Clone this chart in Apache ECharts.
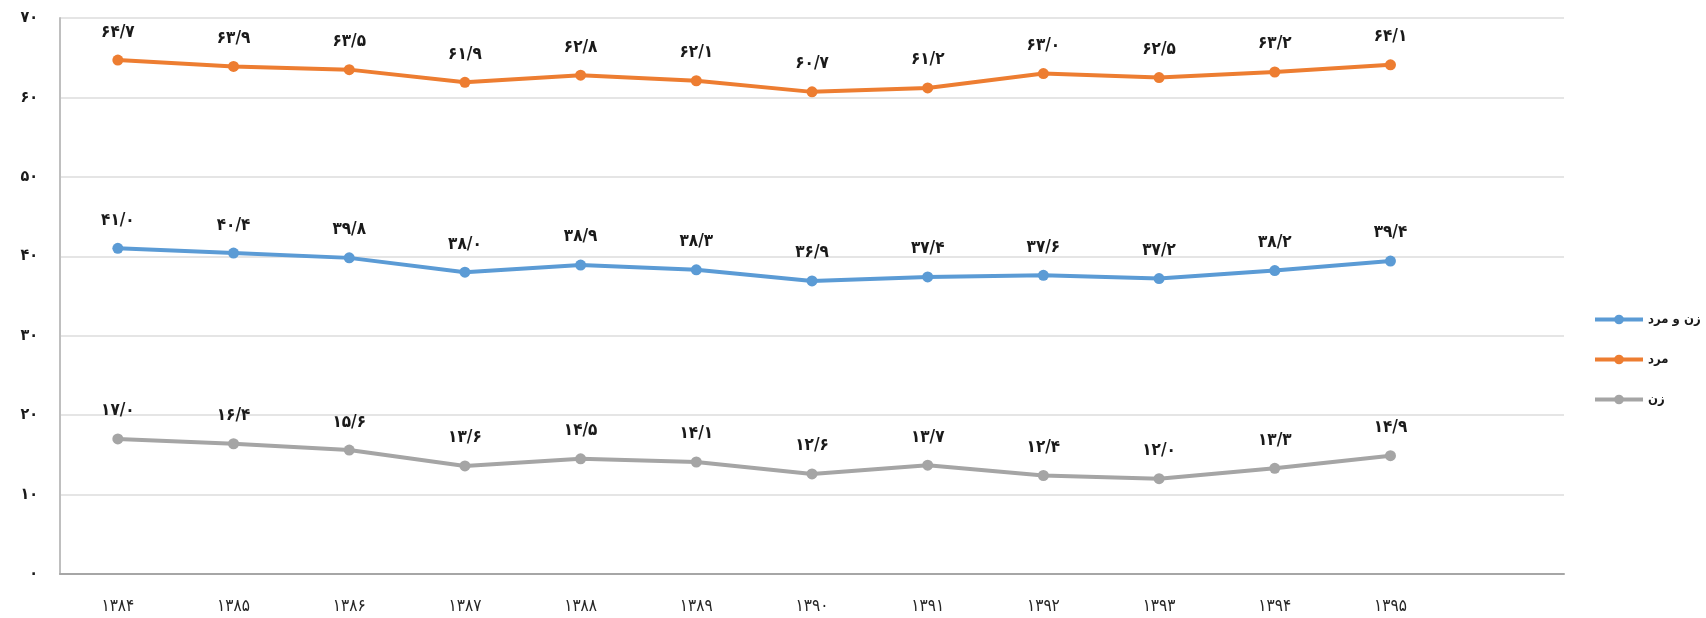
<!DOCTYPE html>
<html>
<head>
<meta charset="utf-8">
<script src="https://cdn.jsdelivr.net/npm/echarts@6/dist/echarts.min.js"></script>
<style>
    html, body { margin: 0; padding: 0; background: #fff; }
    #chart { width: 1706px; height: 618px; }
</style>
</head>
<body>
<div id="chart"></div>
<script>
    // years (last slot is empty in the original chart)
    var years = ['1384', '1385', '1386', '1387', '1388', '1389', '1390', '1391', '1392', '1393', '1394', '1395', ''];
    var both = [41.0, 40.4, 39.8, 38.0, 38.9, 38.3, 36.9, 37.4, 37.6, 37.2, 38.2, 39.4];
    var men = [64.7, 63.9, 63.5, 61.9, 62.8, 62.1, 60.7, 61.2, 63.0, 62.5, 63.2, 64.1];
    var women = [17.0, 16.4, 15.6, 13.6, 14.5, 14.1, 12.6, 13.7, 12.4, 12.0, 13.3, 14.9];
    var names = ['زن و مرد', 'مرد', 'زن'];
    var colors = ['#5B9BD5', '#ED7D31', '#A5A5A5'];

    var FONT = '"DejaVu Sans Condensed", "DejaVu Sans"';

    function fa(s) {
        return String(s).replace(/[0-9]/g, function(d) {
            return '۰۱۲۳۴۵۶۷۸۹'.charAt(+d);
        });
    }

    function mkSeries(name, data, color) {
        return {
            name: name,
            type: 'line',
            data: data,
            symbol: 'circle',
            symbolSize: 11,
            lineStyle: { width: 4, color: color },
            itemStyle: { color: color },
            label: {
                show: true,
                position: 'top',
                distance: 14,
                color: '#1a1a1a',
                fontFamily: FONT,
                fontWeight: 'bold',
                fontSize: 17,
                formatter: function(p) {
                    return fa(p.value.toFixed(1)).replace('.', '/');
                }
            }
        };
    }

    var myChart = echarts.init(document.getElementById('chart'));
    var option = {
        animation: false,
        color: colors,
        grid: {
            left: 60,
            right: 142,
            top: 18,
            bottom: 44
        },
        legend: {
            orient: 'vertical',
            left: 1588,
            top: 308,
            itemWidth: 48,
            itemHeight: 12,
            itemGap: 27,
            data: names,
            lineStyle: { width: 4 },
            textStyle: {
                fontFamily: FONT,
                fontSize: 13,
                fontWeight: 'bold',
                color: '#1a1a1a'
            }
        },
        xAxis: {
            type: 'category',
            data: years,
            axisTick: { show: false },
            axisLine: { lineStyle: { color: '#A6A6A6', width: 2 } },
            axisLabel: {
                interval: 0,
                margin: 24,
                fontFamily: FONT,
                fontSize: 17,
                color: '#262626',
                formatter: function(v) { return fa(v); }
            }
        },
        yAxis: {
            type: 'value',
            min: 0,
            max: 70,
            interval: 10,
            axisLine: { show: true, lineStyle: { color: '#BFBFBF', width: 2 } },
            axisTick: { show: false },
            splitLine: { lineStyle: { color: '#DDDDDD', width: 1.5 } },
            axisLabel: {
                margin: 22,
                fontFamily: FONT,
                fontSize: 16,
                fontWeight: 'bold',
                color: '#1a1a1a',
                formatter: function(v) { return fa(v); }
            }
        },
        series: [
            mkSeries(names[0], both, colors[0]),
            mkSeries(names[1], men, colors[1]),
            mkSeries(names[2], women, colors[2])
        ]
    };
    myChart.setOption(option);
</script>
</body>
</html>
